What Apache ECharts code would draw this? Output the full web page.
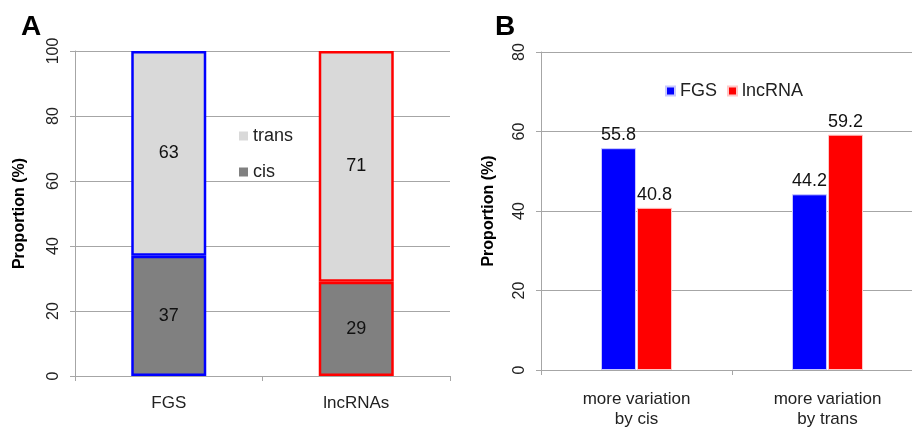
<!DOCTYPE html>
<html>
<head>
  <meta charset="UTF-8"/>
  <title></title>
  <style>
    html, body { margin: 0; padding: 0; background: #fff; overflow: hidden; }
    /* panel B's plot area runs a little past the right edge of the picture */
    #main { width: 924px; height: 429px; }
  </style>
</head>
<body>
<div id="main"></div>
<script src="https://cdn.jsdelivr.net/npm/echarts@6/dist/echarts.min.js"></script>
<script type="text/javascript">
    // panel A: stacked proportions
    const groupsA = ['FGS', 'lncRNAs'];
    const cisA = [37, 29];
    const transA = [63, 71];
    // panel B: grouped bars
    const groupsB = ['more variation\nby cis', 'more variation\nby trans'];
    const fgsB = [55.8, 44.2];
    const lncB = [40.8, 59.2];

    const font = 'Liberation Sans, Arial, sans-serif';
    const gridGray = '#a6a6a6';
    const outlineA = ['#0000ff', '#ff0000'];

    let myChart = echarts.init(document.getElementById('main'));

    //A 的堆叠柱每个类别有自己的边框颜色
    function withBorder(vals) {
        return vals.map((v, i) => ({
            value: v,
            itemStyle: {borderColor: outlineA[i]}
        }));
    }

    let valueAxis = {
        type: 'value',
        min: 0,
        name: 'Proportion (%)',
        nameLocation: 'middle',
        nameTextStyle: {fontFamily: font, fontSize: 16, fontWeight: 'bold', color: '#000'},
        axisLine: {show: true, lineStyle: {color: gridGray}},
        axisTick: {show: true, length: 5, lineStyle: {color: gridGray}},
        splitLine: {lineStyle: {color: gridGray}},
        axisLabel: {rotate: 90, fontFamily: font, fontSize: 16, color: '#222', margin: 13}
    };

    let catAxis = {
        type: 'category',
        axisLine: {lineStyle: {color: gridGray}},
        axisTick: {show: true, length: 5, lineStyle: {color: gridGray}},
        axisLabel: {fontFamily: font, fontSize: 17, color: '#222', lineHeight: 20}
    };

    let option = {
        backgroundColor: '#fff',
        animation: false,
        title: [
            {text: 'A', left: 16, top: 8, textStyle: {fontFamily: font, fontSize: 28, fontWeight: 'bold', color: '#000'}},
            {text: 'B', left: 490, top: 8, textStyle: {fontFamily: font, fontSize: 28, fontWeight: 'bold', color: '#000'}}
        ],
        grid: [
            {left: 75, right: 474, top: 51, bottom: 53},
            {left: 541, right: 1, top: 52, bottom: 57}
        ],
        legend: [
            {
                data: ['trans', 'cis'],
                orient: 'vertical',
                left: 234, top: 122,
                icon: 'rect', itemWidth: 9, itemHeight: 9, itemGap: 18,
                textStyle: {fontFamily: font, fontSize: 18, color: '#222'}
            },
            {
                data: ['FGS', 'lncRNA'],
                orient: 'horizontal',
                left: 660, top: 77,
                icon: 'rect', itemWidth: 9, itemHeight: 9, itemGap: 10,
                textStyle: {fontFamily: font, fontSize: 18, color: '#222'}
            }
        ],
        xAxis: [
            Object.assign({}, catAxis, {gridIndex: 0, data: groupsA, axisLabel: Object.assign({}, catAxis.axisLabel, {margin: 17})}),
            Object.assign({}, catAxis, {gridIndex: 1, data: groupsB, axisLabel: Object.assign({}, catAxis.axisLabel, {margin: 19})})
        ],
        yAxis: [
            Object.assign({}, valueAxis, {gridIndex: 0, max: 100, interval: 20, nameGap: 47}),
            Object.assign({}, valueAxis, {gridIndex: 1, max: 80, interval: 20, nameGap: 44})
        ],
        series: [
            {
                name: 'cis', type: 'bar', stack: 'a',
                xAxisIndex: 0, yAxisIndex: 0,
                barWidth: '40%',
                data: withBorder(cisA),
                itemStyle: {color: '#808080', borderWidth: 2.5},
                label: {show: true, position: 'inside', fontFamily: font, fontSize: 18, color: '#111'}
            },
            {
                name: 'trans', type: 'bar', stack: 'a',
                xAxisIndex: 0, yAxisIndex: 0,
                barWidth: '40%',
                data: withBorder(transA),
                itemStyle: {color: '#d9d9d9', borderWidth: 2.5},
                label: {show: true, position: 'inside', fontFamily: font, fontSize: 18, color: '#111'}
            },
            {
                name: 'FGS', type: 'bar',
                xAxisIndex: 1, yAxisIndex: 1,
                barWidth: 35, barGap: '3%',
                data: fgsB,
                itemStyle: {color: '#0000ff', borderColor: '#c8c8ff', borderWidth: 1},
                label: {show: true, position: 'top', distance: 4, fontFamily: font, fontSize: 18, color: '#111'}
            },
            {
                name: 'lncRNA', type: 'bar',
                xAxisIndex: 1, yAxisIndex: 1,
                barWidth: 35, barGap: '3%',
                data: lncB,
                itemStyle: {color: '#ff0000', borderColor: '#ffc8c8', borderWidth: 1},
                label: {show: true, position: 'top', distance: 4, fontFamily: font, fontSize: 18, color: '#111'}
            }
        ]
    };
    myChart.setOption(option);
</script>
</body>
</html>
